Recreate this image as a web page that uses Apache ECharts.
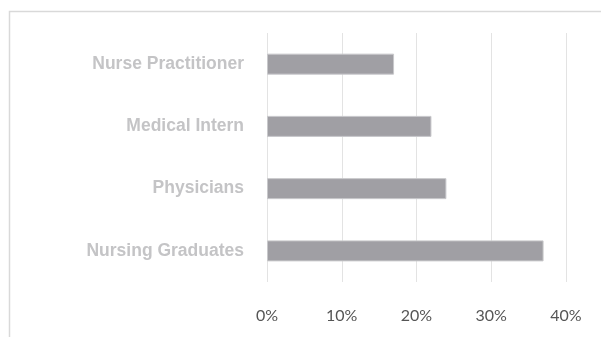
<!DOCTYPE html>
<html>
<head>
<meta charset="utf-8">
<script src="https://cdn.jsdelivr.net/npm/echarts@6/dist/echarts.min.js"></script>
<style>html,body{margin:0;padding:0;background:#fff;}#c{width:601px;height:337px;}</style>
</head>
<body>
<div id="c"></div>
<script>
var categories = ['Nursing Graduates', 'Physicians', 'Medical Intern', 'Nurse Practitioner'];
var values = [37, 24, 22, 17];
var xTicks = [0, 10, 20, 30, 40];

var chart = echarts.init(document.getElementById('c'), null, {renderer: 'canvas'});
chart.setOption({
  animation: false,
  backgroundColor: '#ffffff',
  graphic: [{
    type: 'rect',
    shape: {x: 9.5, y: 11.5, width: 700, height: 400},
    style: {fill: 'none', stroke: '#d9d9d9', lineWidth: 1.5},
    silent: true
  }],
  grid: {left: 267, right: 35, top: 33, bottom: 55, containLabel: false},
  xAxis: {
    type: 'value',
    min: xTicks[0], max: xTicks[xTicks.length - 1], interval: 10,
    axisLine: {show: false}, axisTick: {show: false},
    splitLine: {show: true, lineStyle: {color: '#e3e3e3', width: 1}},
    axisLabel: {
      margin: 26,
      formatter: function (v) { return v + '%'; },
      color: '#555555', fontSize: 16, fontFamily: 'Lato'
    }
  },
  yAxis: {
    type: 'category',
    data: categories,
    axisLine: {show: false}, axisTick: {show: false},
    splitLine: {show: false},
    axisLabel: {
      margin: 23,
      color: '#c4c4c6', fontSize: 17.5, fontWeight: 'bold', fontFamily: 'Liberation Sans'
    }
  },
  series: [{
    type: 'bar',
    data: values,
    barWidth: 21,
    itemStyle: {color: '#a09fa4', borderColor: '#c8c8cb', borderWidth: 1}
  }]
});
</script>
</body>
</html>
